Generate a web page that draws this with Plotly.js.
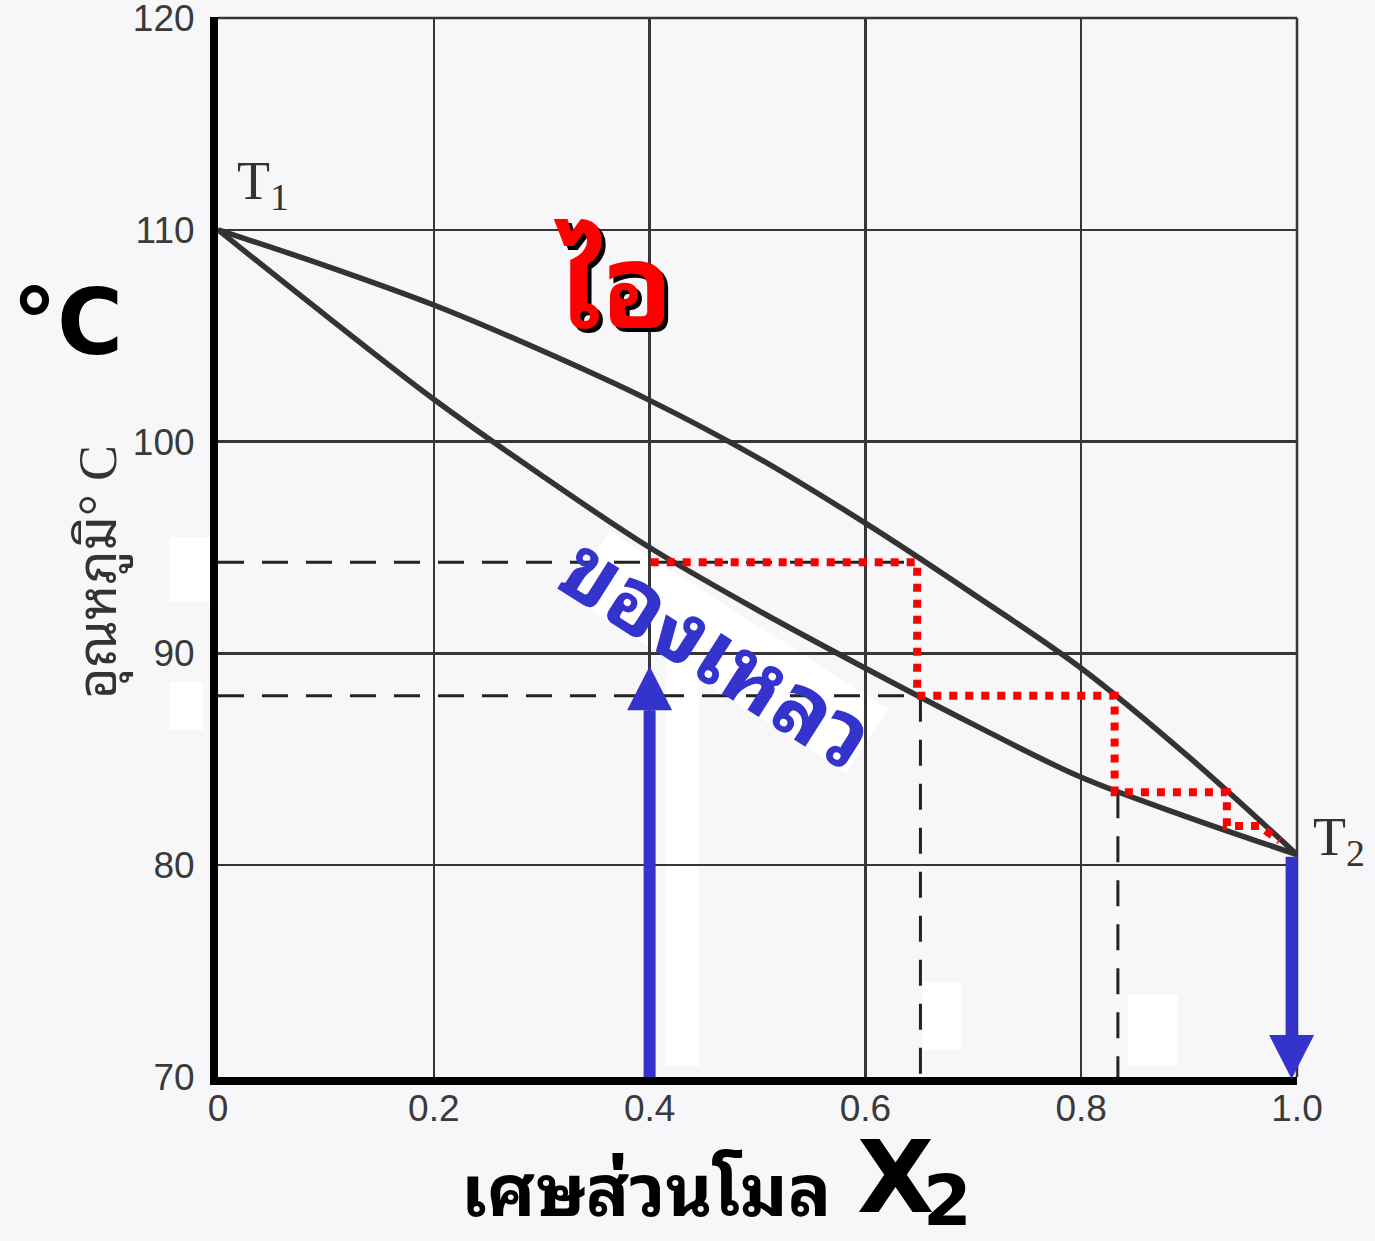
<!DOCTYPE html>
<html><head><meta charset="utf-8">
<script src="https://cdn.plot.ly/plotly-3.0.1.min.js"></script>
<style>html,body{margin:0;padding:0;background:#f7f7f9;} #chart{width:1375px;height:1241px;}</style>
</head><body><div id="chart"></div>
<script>
// ---------- data ----------
const xTickVals = [0, 0.2, 0.4, 0.6, 0.8, 1.0];
const xTickText = ['0', '0.2', '0.4', '0.6', '0.8', '1.0'];
const yTickVals = [70, 80, 90, 100, 110, 120];
const yTickText = ['70', '80', '90', '100', '110', '120'];

// vapour (upper) curve
const vaporX = [0, 0.1, 0.2, 0.3, 0.4, 0.5, 0.6, 0.7, 0.8, 0.9, 1.0];
const vaporY = [110, 108.3, 106.45, 104.3, 101.95, 99.25, 96.15, 92.8, 89.3, 85.1, 80.5];
// liquid (lower) curve
const liquidX = [0, 0.1, 0.2, 0.3, 0.4, 0.5, 0.6, 0.7, 0.8, 0.9, 1.0];
const liquidY = [110, 105.95, 102.0, 98.4, 95.0, 92.05, 89.3, 86.65, 84.15, 82.25, 80.5];

// red distillation staircase
const stairX = [0.401, 0.648, 0.648, 0.831, 0.831, 0.935, 0.935, 0.965, 0.984];
const stairY = [94.3, 94.3, 88.0, 88.0, 83.45, 83.45, 81.85, 81.85, 81.15];

// dashed guides
const guideTempY = [94.3, 88.0];
const guideTempEndX = [0.648, 0.651];
const guideCompX = [0.651, 0.834];
const guideCompTopY = [88.0, 83.45];

// blue arrows
const arrowX = [0.4, 0.995];
const arrowFrom = [70, 80.4];
const arrowTo = [89.4, 69.9];

// ---------- layout geometry ----------
const W = 1375, H = 1241;
const L = 218, R = 1297, T = 17, B = 1077;
const plotW = R - L, plotH = B - T;
const yRange = [70, 120.05];
const unitPerPxY = (yRange[1] - yRange[0]) / plotH;
const pxX = p => (p - L) / plotW;   // pixel -> paper fraction
const pxY = p => (B - p) / plotH;
const yPaper = v => (v - yRange[0]) / (yRange[1] - yRange[0]);

const gridColor = '#363636';
const blue = '#3434cc';

const traces = [];
guideTempY.forEach((y, i) => {
  traces.push({x: [0, guideTempEndX[i]], y: [y, y], mode: 'lines', hoverinfo: 'skip',
    line: {color: '#222', width: 3, dash: '26px,18px'}});
});
guideCompX.forEach((x, i) => {
  traces.push({x: [x, x], y: [guideCompTopY[i], yRange[0]], mode: 'lines', hoverinfo: 'skip',
    line: {color: '#222', width: 3, dash: '26px,18px'}});
});
traces.push({x: vaporX, y: vaporY, mode: 'lines', name: 'vapour', line: {color: '#333', width: 5.5, shape: 'spline', smoothing: 1}});
traces.push({x: liquidX, y: liquidY, mode: 'lines', name: 'liquid', line: {color: '#333', width: 5.5, shape: 'spline', smoothing: 1}});
traces.push({x: stairX, y: stairY, mode: 'lines', name: 'steps', line: {color: '#ff0000', width: 8, dash: '8px,8px'}});

const shapes = [];
shapes.push({type: 'line', xref: 'paper', yref: 'paper', x0: 1, x1: 1, y0: 0, y1: yPaper(120), layer: 'below', line: {color: gridColor, width: 2.5}});
shapes.push({type: 'line', xref: 'paper', yref: 'paper', x0: 0, x1: 1, y0: yPaper(120), y1: yPaper(120), layer: 'below', line: {color: gridColor, width: 2.5}});
// white masks from the edited scan
const masks = [[666, 649, 699, 1066], [923, 982, 962, 1050], [1128, 995, 1178, 1066], [170, 537, 213, 602], [170, 682, 203, 730]];
masks.forEach(m => shapes.push({type: 'rect', xref: 'paper', yref: 'paper', x0: pxX(m[0]), x1: pxX(m[2]), y0: pxY(m[3]), y1: pxY(m[1]),
  layer: 'between', fillcolor: '#ffffff', line: {width: 0}}));
// rotated white box behind the liquid label
(function () {
  const a = 32.5 * Math.PI / 180, hl = 165, hh = 38;
  const pts = [[-hl, -hh], [hl, -hh], [hl, hh], [-hl, hh]].map(([u, v]) => {
    const xr = u * Math.cos(a) - v * Math.sin(a);
    const yr = u * Math.sin(a) + v * Math.cos(a);
    return [xr.toFixed(1), (-yr).toFixed(1)];
  });
  shapes.push({type: 'path', xref: 'paper', yref: 'paper', xsizemode: 'pixel', ysizemode: 'pixel',
    xanchor: pxX(728), yanchor: pxY(652), layer: 'between', fillcolor: '#ffffff', line: {width: 0},
    path: 'M' + pts.map(p => p.join(',')).join(' L') + ' Z'});
})();
// blue arrows: shaft + head (paper refs so the head is not clipped)
const headLen = 44, headHalf = 22.5;
arrowX.forEach((x, i) => {
  const dir = arrowTo[i] > arrowFrom[i] ? 1 : -1;
  const base = arrowTo[i] - dir * headLen * unitPerPxY;
  shapes.push({type: 'line', xref: 'paper', yref: 'paper', x0: x, x1: x, y0: yPaper(arrowFrom[i]), y1: yPaper(base),
    line: {color: blue, width: 12}});
  shapes.push({type: 'path', xref: 'paper', yref: 'paper', xsizemode: 'pixel', ysizemode: 'pixel',
    xanchor: x, yanchor: yPaper(arrowTo[i]), fillcolor: blue, line: {width: 0},
    path: `M0,0 L${-headHalf},${-dir * headLen} L${headHalf},${-dir * headLen} Z`});
});

const thaiFont = 'Noto Sans Thai Looped, Loma, Garuda, Tlwg Typo, Sarabun, Noto Sans Thai, Noto Sans, DejaVu Sans, sans-serif';
const ann = (xp, yp, text, font, extra) => Object.assign({xref: 'paper', yref: 'paper', x: pxX(xp), y: pxY(yp),
  xanchor: 'center', yanchor: 'middle', text: text, showarrow: false, font: font}, extra || {});
const annotations = [
  ann(67, 322, '°C', {family: 'DejaVu Sans', size: 90, color: '#000', weight: 'bold'}),
  ann(100, 572, 'อุณหภูมิ° C', {family: 'Liberation Serif, ' + thaiFont, size: 54, color: '#333'}, {textangle: -90}),
  ann(263, 184, 'T<sub>1</sub>', {family: 'Liberation Serif', size: 54, color: '#333'}),
  ann(1339, 840, 'T<sub>2</sub>', {family: 'Liberation Serif', size: 54, color: '#333'}),
  ann(617, 280, 'ไอ', {family: thaiFont, size: 116, color: '#000', weight: 'bold'}),
  ann(613, 276, 'ไอ', {family: thaiFont, size: 116, color: '#ff0000', weight: 'bold'}),
  ann(722, 645, 'ของเหลว', {family: thaiFont, size: 90, color: blue, weight: 'bold'}, {textangle: 32.5}),
  ann(646, 1183, 'เศษส่วนโมล', {family: thaiFont, size: 72, color: '#000', weight: 'bold'}),
  ann(895, 1177, 'X', {family: 'DejaVu Sans', size: 100, color: '#000', weight: 'bold'}),
  ann(947, 1201, '2', {family: 'DejaVu Sans', size: 70, color: '#000', weight: 'bold'})
];

const layout = {
  width: W, height: H,
  margin: {l: L, r: W - R, t: T, b: H - B, pad: 0},
  paper_bgcolor: '#f7f7f9', plot_bgcolor: '#f7f7f9',
  showlegend: false,
  xaxis: {range: [0, 1], tickvals: xTickVals, ticktext: xTickText, showgrid: true, gridcolor: gridColor, gridwidth: 2.5,
    zeroline: false, showline: true, linecolor: '#000', linewidth: 8, ticks: '', ticklabelstandoff: -8,
    ticklabeloverflow: 'allow',
    tickfont: {family: 'Liberation Sans', size: 37, color: '#3a3a3a'}, title: {text: ''}},
  yaxis: {range: yRange, tickvals: yTickVals, ticktext: yTickText, showgrid: true, gridcolor: gridColor, gridwidth: 2.5,
    zeroline: false, showline: true, linecolor: '#000', linewidth: 8, ticks: '', ticklabelstandoff: 8,
    ticklabeloverflow: 'allow',
    tickfont: {family: 'Liberation Sans', size: 37, color: '#3a3a3a'}, title: {text: ''}},
  shapes: shapes,
  annotations: annotations
};

Plotly.newPlot('chart', traces, layout, {displayModeBar: false, staticPlot: true});
</script>
</body></html>
